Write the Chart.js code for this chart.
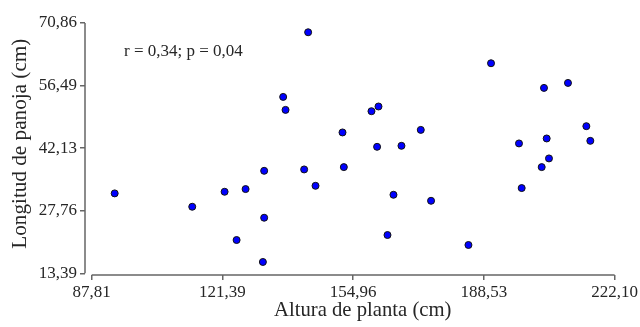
<!DOCTYPE html>
<html>
<head>
<meta charset="utf-8">
<script src="https://cdn.jsdelivr.net/npm/chart.js@4.4.1/dist/chart.umd.min.js"></script>
<style>
  html, body { margin: 0; padding: 0; background: #fff; }
  #wrap { width: 640px; height: 327px; }
</style>
</head>
<body>
<div id="wrap"><canvas id="grafico"></canvas></div>
<script>
// Altura de planta (cm) vs. Longitud de panoja (cm)
const alturaPlanta = [
  93.71, 113.63, 121.94, 127.33, 132.10, 132.10, 125.02, 131.77,
  136.98, 137.59, 143.39, 142.37, 145.29, 152.56, 152.22, 159.66,
  161.46, 161.10, 167.36, 172.32, 165.31, 163.77, 174.96,
  184.56, 190.36, 197.54, 198.23, 203.37, 205.24, 203.96, 210.12,
  204.65, 214.84, 215.86
];
const longitudPanoja = [
  31.74, 28.67, 32.11, 32.73, 36.92, 26.15, 21.03, 15.99,
  53.89, 50.91, 68.73, 37.24, 33.48, 37.77, 45.73, 50.61,
  51.69, 42.43, 42.66, 46.32, 31.42, 22.18, 30.04,
  19.89, 61.62, 43.21, 32.96, 37.77, 39.77, 55.96, 57.10,
  44.35, 47.17, 43.80
];
const xTicks = [87.81, 121.39, 154.96, 188.53, 222.10];
const yTicks = [13.39, 27.76, 42.13, 56.49, 70.86];
const anotacion = 'r = 0,34; p = 0,04';

const puntos = alturaPlanta.map((x, i) => ({ x: x, y: longitudPanoja[i] }));
const coma = v => Number(v).toFixed(2).replace('.', ',');

Chart.defaults.font.family = "'Liberation Serif', 'Times New Roman', serif";
Chart.defaults.color = '#262626';

// axis lines only between first and last tick, like the original plot
const ejesPlugin = {
  id: 'ejes',
  afterDraw(chart) {
    const ctx = chart.ctx;
    const xs = chart.scales.x, ys = chart.scales.y;
    const area = chart.chartArea;
    ctx.save();
    ctx.strokeStyle = '#666';
    ctx.lineWidth = 1.5;
    ctx.beginPath();
    ctx.moveTo(xs.getPixelForValue(xTicks[0]), area.bottom);
    ctx.lineTo(xs.getPixelForValue(xTicks[xTicks.length - 1]), area.bottom);
    ctx.moveTo(area.left, ys.getPixelForValue(yTicks[0]));
    ctx.lineTo(area.left, ys.getPixelForValue(yTicks[yTicks.length - 1]));
    ctx.stroke();

    ctx.fillStyle = '#262626';
    ctx.font = "17px 'Liberation Serif'";
    ctx.textBaseline = 'middle';
    ctx.fillText(anotacion, xs.getPixelForValue(96.1), ys.getPixelForValue(64.37));
    ctx.restore();
  }
};

new Chart(document.getElementById('grafico'), {
  type: 'scatter',
  data: {
    datasets: [{
      data: puntos,
      backgroundColor: '#0000ff',
      borderColor: '#111',
      borderWidth: 1,
      pointRadius: 3.5,
      pointHoverRadius: 3.5
    }]
  },
  options: {
    responsive: true,
    maintainAspectRatio: false,
    animation: false,
    layout: { padding: { left: 0, right: 25, top: 23, bottom: 0 } },
    plugins: {
      legend: { display: false },
      tooltip: { enabled: false }
    },
    scales: {
      x: {
        type: 'linear',
        min: 86.09,
        max: 222.10,
        afterBuildTicks: s => { s.ticks = xTicks.map(v => ({ value: v })); },
        afterFit: s => { s.height = 52; },
        grid: { drawOnChartArea: false, drawTicks: true, tickLength: 5, color: '#666', lineWidth: 1.5 },
        border: { display: false },
        ticks: { font: { size: 17 }, padding: 2, maxRotation: 0, callback: v => coma(v) },
        // leading spaces nudge the title right, as in the original
        title: { display: true, text: '     Altura de planta (cm)', font: { size: 20.7 }, padding: { top: 0, bottom: 4 } }
      },
      y: {
        type: 'linear',
        min: 13.0,
        max: 70.86,
        afterBuildTicks: s => { s.ticks = yTicks.map(v => ({ value: v })); },
        afterFit: s => { s.width = 85; },
        grid: { drawOnChartArea: false, drawTicks: true, tickLength: 5, color: '#666', lineWidth: 1.5 },
        border: { display: false },
        ticks: { font: { size: 17 }, padding: 3, callback: v => coma(v) },
        title: { display: true, text: '  Longitud de panoja (cm)', font: { size: 21.2 }, padding: { top: 8, bottom: 0 } }
      }
    }
  },
  plugins: [ejesPlugin]
});
</script>
</body>
</html>
